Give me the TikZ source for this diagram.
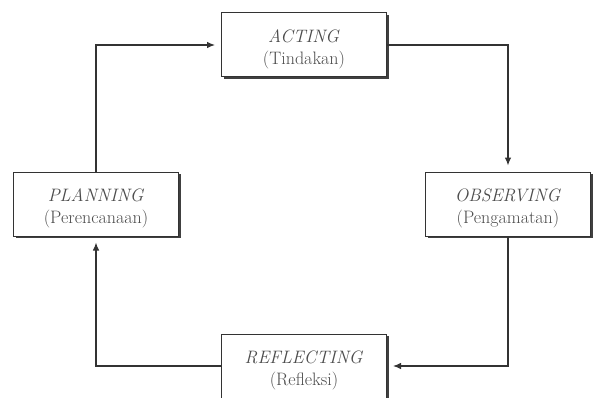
\documentclass[tikz,border=0pt]{standalone}
\usepackage{tikz}
\usetikzlibrary{arrows.meta,shadows}

%stage name over its Indonesian gloss, pushed a little down in the box
\newcommand{\stagetext}[2]{\rule{0pt}{21pt}\textit{#1}\\(#2)}

\tikzset{
  stagebox/.style={draw=black!80, fill=white, line width=1pt,
    minimum width=165pt, minimum height=64pt, align=center,
    font=\fontsize{18}{22}\selectfont, text=black!70,
    drop shadow={shadow xshift=2pt, shadow yshift=-2pt, fill=black!75, opacity=1}},
  cycleline/.style={line width=1.1pt, draw=black!80,
    -{Latex[length=8pt,width=6.5pt]}, shorten >=6pt}
}

\begin{document}
\begin{tikzpicture}[x=1pt,y=-1pt]

\useasboundingbox (0,0) rectangle (593,398);

%the four stages of the cycle
\node[stagebox] (acting)     at (304,45)  {\stagetext{ACTING}{Tindakan}};		%top
\node[stagebox] (observing)  at (508,204) {\stagetext{OBSERVING}{Pengamatan}};	%right
\node[stagebox] (reflecting) at (304,366) {\stagetext{REFLECTING}{Refleksi}};	%bottom
\node[stagebox] (planning)   at (96,204)  {\stagetext{PLANNING}{Perencanaan}};	%left

%connectors, clockwise
\draw[cycleline] (planning.north) |- (acting.west);
\draw[cycleline] (acting.east) -| (observing.north);
\draw[cycleline] (observing.south) |- (reflecting.east);
\draw[cycleline] (reflecting.west) -| (planning.south);

\end{tikzpicture}
\end{document}
